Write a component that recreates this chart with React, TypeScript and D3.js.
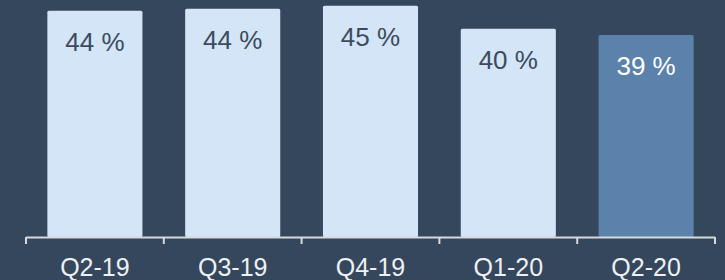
import React, { useEffect, useRef } from 'react';
import * as d3 from 'd3';

const quarters = ['Q2-19', 'Q3-19', 'Q4-19', 'Q1-20', 'Q2-20'];
const shares = [43.9, 44.3, 44.9, 40.4, 39.2];
const highlight = ['Q2-20'];

const App: React.FC = () => {
  const svgRef = useRef<SVGSVGElement>(null);

  useEffect(() => {
    document.body.style.margin = '0';
    document.body.style.background = '#35475d';
    if (!svgRef.current) return;

    const width = 725;
    const height = 280;
    const baseY = 236;

    const svg = d3.select(svgRef.current);
    svg.selectAll('*').remove();

    svg.append('rect')
      .attr('width', width)
      .attr('height', height)
      .attr('fill', '#35475d');

    const x = d3.scaleBand<string>()
      .domain(quarters)
      .range([26, 715])
      .paddingInner(0.31)
      .paddingOuter(0.155);

    const y = d3.scaleLinear()
      .domain([0, 46])
      .range([baseY, 0]);

    const data = quarters.map((q, i) => ({ q, v: shares[i] }));

    // Bars
    svg.selectAll('rect.bar')
      .data(data)
      .enter()
      .append('rect')
      .attr('class', 'bar')
      .attr('x', d => x(d.q) as number)
      .attr('y', d => y(d.v))
      .attr('width', x.bandwidth())
      .attr('height', d => baseY - y(d.v) + 1)
      .attr('rx', 1.5)
      .attr('fill', d => highlight.includes(d.q) ? '#5b82aa' : '#d3e5f6');

    // Value labels
    svg.selectAll('text.val')
      .data(data)
      .enter()
      .append('text')
      .attr('class', 'val')
      .attr('x', d => (x(d.q) as number) + x.bandwidth() / 2)
      .attr('y', d => y(d.v) + 40)
      .attr('text-anchor', 'middle')
      .attr('font-family', '"Liberation Sans", Arial, sans-serif')
      .attr('font-size', 26)
      .attr('fill', d => highlight.includes(d.q) ? '#ffffff' : '#3c4b5e')
      .text(d => `${Math.round(d.v)} %`);

    // Axis line + ticks at band boundaries
    const step = x.step();
    const start = (x(quarters[0]) as number) - step * x.paddingOuter();
    const axis = svg.append('g').attr('stroke', '#d6d9dd').attr('stroke-width', 2).attr('fill', 'none');
    axis.append('line')
      .attr('x1', start)
      .attr('x2', start + step * quarters.length)
      .attr('y1', baseY + 1.5)
      .attr('y2', baseY + 1.5);
    d3.range(quarters.length + 1).forEach(i => {
      axis.append('line')
        .attr('x1', start + i * step)
        .attr('x2', start + i * step)
        .attr('y1', baseY + 1)
        .attr('y2', baseY + 8);
    });

    // Category labels
    svg.selectAll('text.cat')
      .data(quarters)
      .enter()
      .append('text')
      .attr('class', 'cat')
      .attr('x', d => (x(d) as number) + x.bandwidth() / 2)
      .attr('y', 276)
      .attr('text-anchor', 'middle')
      .attr('font-family', '"Liberation Sans", Arial, sans-serif')
      .attr('font-size', 25)
      .attr('fill', '#eef0f2')
      .text(d => d);
  }, []);

  return <svg ref={svgRef} width={725} height={280} style={{ display: 'block' }} />;
};

export default App;
